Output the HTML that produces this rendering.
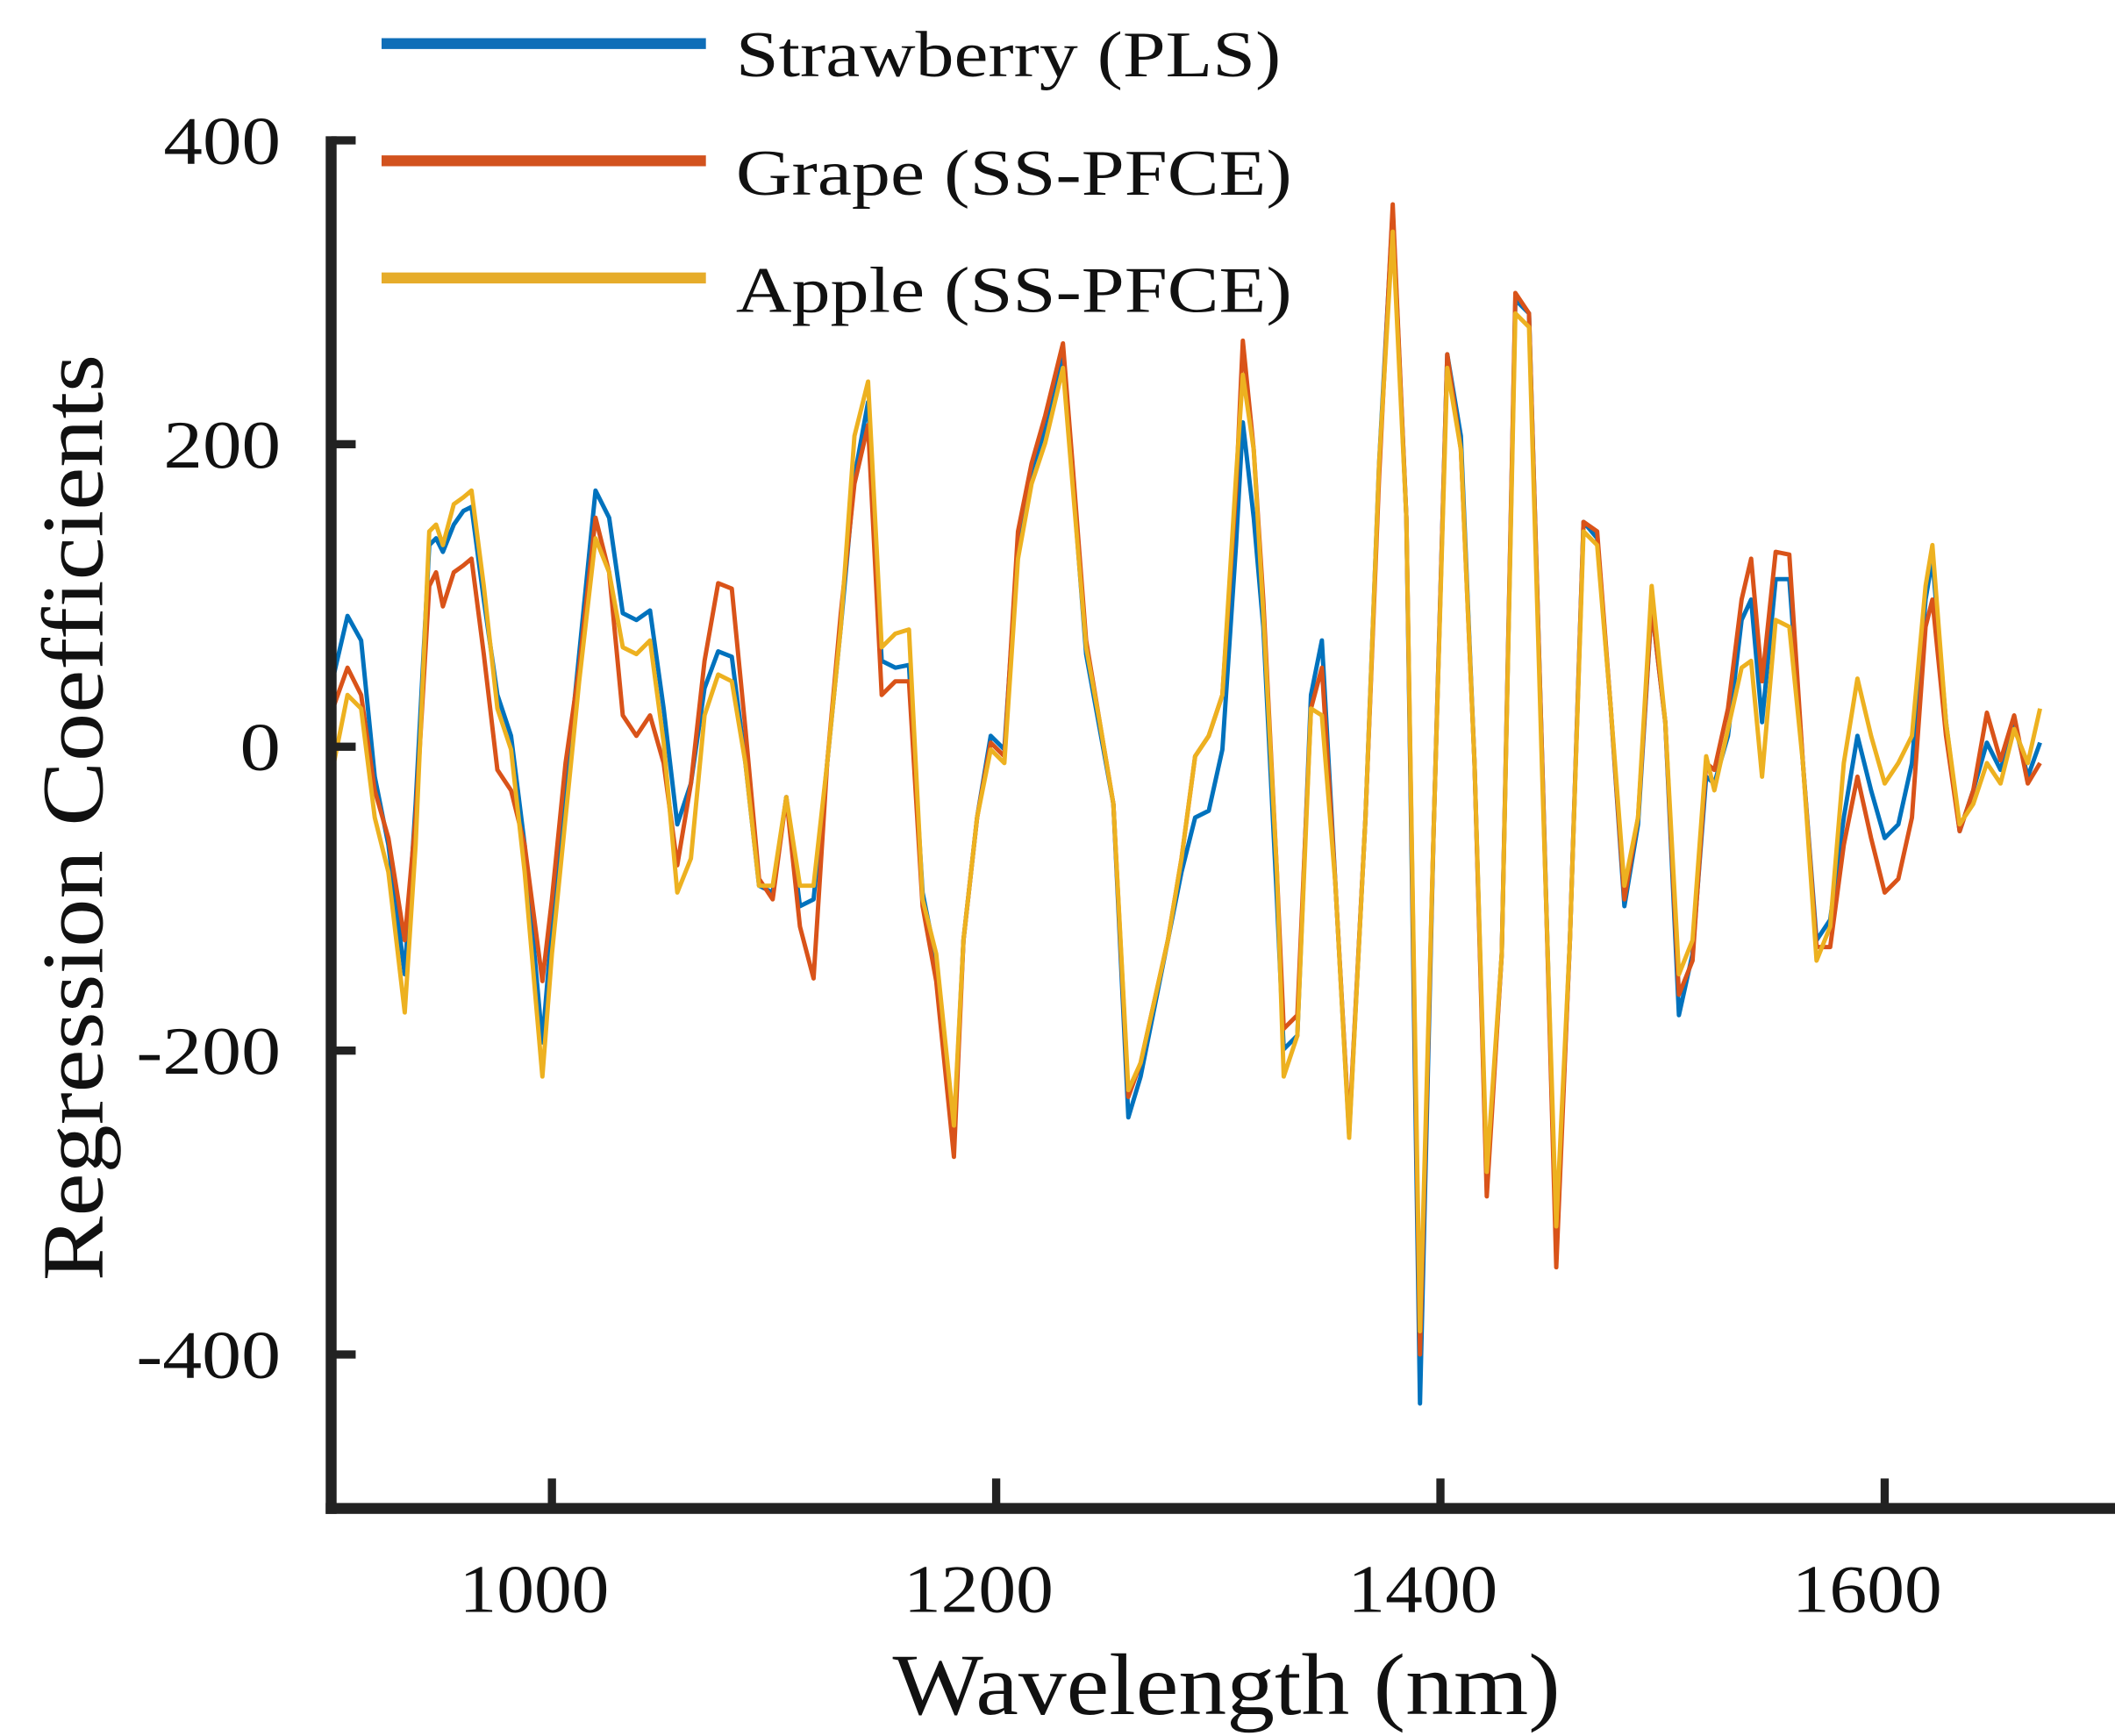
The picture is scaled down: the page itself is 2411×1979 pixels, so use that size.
<!DOCTYPE html>
<html><head><meta charset="utf-8"><style>html,body{margin:0;padding:0;background:#fff}svg{display:block}text{font-family:"Liberation Serif",serif}</style></head>
<body>
<svg width="2411" height="1979" viewBox="0 0 1552 1274" preserveAspectRatio="none" xmlns="http://www.w3.org/2000/svg" font-family="'Liberation Serif', serif" fill="#111">
<rect width="1552" height="1274" fill="#fff"/>
<g fill="none" stroke-width="3.2" stroke-linejoin="round">
<polyline stroke="#0072BD" points="245,495 255,452 265,470 275,570 285,620 297,715 305,590 315,400 320,395 325,405 333,385 340,375 346,372 355,440 365,510 375,540 385,620 398,765 405,680 415,580 425,480 437,360 447,380 457,450 467,455 477,448 487,520 497,605 507,575 517,505 527,478 537,482 547,560 557,650 567,655 577,585 587,665 597,660 607,560 617,460 627,350 637,295 647,485 657,490 667,488 677,655 687,705 700,832 707,690 717,600 727,540 737,550 747,400 757,345 767,315 780,258 787,350 797,480 807,535 817,590 828,820 837,790 847,740 857,690 867,640 877,600 887,595 897,550 907,400 912,310 920,380 927,460 937,660 942,770 952,760 962,510 970,470 980,650 990,832 1002,600 1012,340 1022,155 1032,380 1042,1030 1052,610 1062,260 1072,320 1082,560 1091,870 1102,700 1112,220 1122,230 1132,570 1142,920 1152,690 1162,383 1172,395 1182,520 1192,665 1202,605 1212,445 1222,530 1232,745 1242,700 1252,570 1258,575 1268,540 1278,455 1285,440 1293,530 1303,425 1313,425 1323,560 1333,690 1343,675 1353,600 1363,540 1373,580 1383,615 1393,605 1403,560 1413,440 1418,410 1428,530 1438,610 1448,580 1458,545 1468,565 1478,530 1488,570 1497,545"/>
<polyline stroke="#D95319" points="245,518 255,490 265,510 275,580 285,615 297,690 305,600 315,430 320,420 325,445 333,420 340,415 346,410 355,480 365,565 375,580 385,620 398,720 405,660 415,560 425,490 437,380 447,420 457,525 467,540 477,525 487,560 497,635 507,575 517,485 527,428 537,432 547,535 557,645 567,660 577,585 587,680 597,718 607,560 617,450 627,355 637,312 647,510 657,500 667,500 677,665 687,720 700,849 707,690 717,600 727,545 737,555 747,390 757,340 767,305 780,252 787,340 797,470 807,530 817,590 828,805 837,780 847,735 857,690 867,630 877,555 887,540 897,510 907,360 912,250 920,330 927,440 937,640 942,755 952,745 962,520 970,490 980,650 990,830 1002,600 1012,350 1022,150 1032,380 1042,994 1052,610 1062,260 1072,330 1082,560 1091,878 1102,700 1112,215 1122,230 1132,570 1142,930 1152,690 1162,383 1172,390 1182,520 1192,660 1202,600 1212,445 1222,530 1232,730 1242,705 1252,560 1258,565 1268,520 1278,440 1285,410 1293,500 1303,405 1313,407 1323,560 1333,695 1343,695 1353,620 1363,570 1373,615 1383,655 1393,645 1403,600 1413,460 1418,440 1428,540 1438,610 1448,580 1458,523 1468,558 1478,525 1488,575 1497,560"/>
<polyline stroke="#EDB120" points="245,560 255,510 265,520 275,600 285,640 297,743 305,620 315,390 320,385 325,400 333,370 340,365 346,360 355,430 365,520 375,550 385,640 398,790 405,700 415,600 425,500 437,395 447,420 457,475 467,480 477,470 487,545 497,655 507,630 517,525 527,495 537,500 547,560 557,650 567,650 577,585 587,650 597,650 607,560 617,460 627,320 637,280 647,475 657,465 667,462 677,660 687,700 700,826 707,690 717,600 727,550 737,560 747,410 757,355 767,325 780,270 787,355 797,475 807,530 817,590 828,800 837,780 847,735 857,690 867,630 877,555 887,540 897,510 907,350 912,275 920,330 927,450 937,640 942,790 952,760 962,520 970,525 980,650 990,835 1002,600 1012,340 1022,170 1032,380 1042,977 1052,610 1062,270 1072,330 1082,560 1091,860 1102,700 1112,230 1122,240 1132,580 1142,900 1152,690 1162,390 1172,400 1182,520 1192,650 1202,600 1212,430 1222,530 1232,715 1242,690 1252,555 1258,580 1268,535 1278,490 1285,485 1293,570 1303,455 1313,460 1323,560 1333,705 1343,680 1353,560 1363,498 1373,540 1383,575 1393,560 1403,540 1413,430 1418,400 1428,530 1438,605 1448,590 1458,560 1468,575 1478,535 1488,560 1497,520"/>
</g>
<g fill="#222">
<rect x="239" y="100" width="8" height="1011"/>
<rect x="239" y="1103" width="1313" height="8"/>
<rect x="243" y="100" width="18" height="6"/>
<rect x="243" y="323" width="18" height="6"/>
<rect x="243" y="545" width="18" height="6"/>
<rect x="243" y="768" width="18" height="6"/>
<rect x="243" y="991" width="18" height="6"/>
<rect x="402" y="1085" width="6" height="20"/>
<rect x="728" y="1085" width="6" height="20"/>
<rect x="1054" y="1085" width="6" height="20"/>
<rect x="1380" y="1085" width="6" height="20"/>
</g>
<g font-size="50" text-anchor="end">
<text x="206" y="120" textLength="86" lengthAdjust="spacingAndGlyphs">400</text>
<text x="206" y="343" textLength="86" lengthAdjust="spacingAndGlyphs">200</text>
<text x="206" y="565" textLength="30" lengthAdjust="spacingAndGlyphs">0</text>
<text x="206" y="788" textLength="106" lengthAdjust="spacingAndGlyphs">-200</text>
<text x="206" y="1011" textLength="106" lengthAdjust="spacingAndGlyphs">-400</text>
</g>
<g font-size="50" text-anchor="middle">
<text x="392" y="1183" textLength="110" lengthAdjust="spacingAndGlyphs">1000</text>
<text x="718" y="1183" textLength="110" lengthAdjust="spacingAndGlyphs">1200</text>
<text x="1044" y="1183" textLength="110" lengthAdjust="spacingAndGlyphs">1400</text>
<text x="1370" y="1183" textLength="110" lengthAdjust="spacingAndGlyphs">1600</text>
</g>
<text x="655" y="1258" font-size="64" textLength="490" lengthAdjust="spacingAndGlyphs">Wavelength (nm)</text>
<text transform="translate(75,940) rotate(-90)" font-size="64" textLength="680" lengthAdjust="spacingAndGlyphs">Regression Coefficients</text>
<g stroke-width="8">
<line x1="280" y1="32" x2="518" y2="32" stroke="#0E6EB8"/>
<line x1="280" y1="118" x2="518" y2="118" stroke="#D2521E"/>
<line x1="280" y1="204" x2="518" y2="204" stroke="#E6AC2A"/>
</g>
<g font-size="48">
<text x="540" y="56" textLength="400" lengthAdjust="spacingAndGlyphs">Strawberry (PLS)</text>
<text x="540" y="143" textLength="408" lengthAdjust="spacingAndGlyphs">Grape (SS-PFCE)</text>
<text x="540" y="229" textLength="408" lengthAdjust="spacingAndGlyphs">Apple (SS-PFCE)</text>
</g>
</svg>
</body></html>
